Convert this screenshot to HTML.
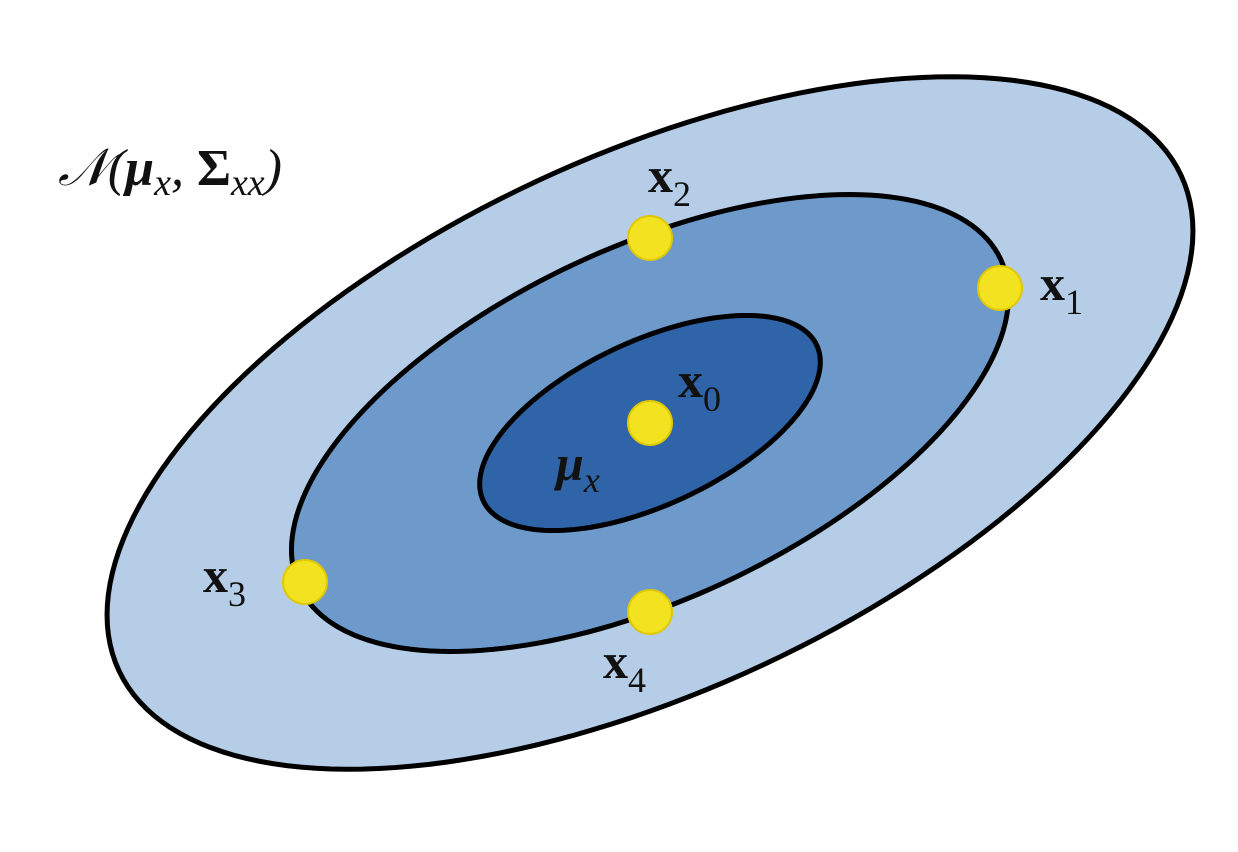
<!DOCTYPE html>
<html><head><meta charset="utf-8"><style>
html,body{margin:0;padding:0;background:#fff;width:1238px;height:852px;overflow:hidden;position:relative;}
svg{display:block;position:absolute;left:0;top:0;}
text{font-family:"Liberation Serif",serif;fill:#111;}
</style></head><body>
<svg id="chart" width="1238" height="852" viewBox="0 0 1238 852"></svg>
<script>
const levelNames = ['outer-contour','middle-contour','inner-contour'];
const semiMajor = [586, 387, 184];
const semiMinor = [267, 176, 82];
const fills = ['#b5cde6','#6e9acb','#2f64a8'];
const pointNames = ['x1','x2','x3','x4','x0'];
const pointX = [1000, 650, 305, 650, 650];
const pointY = [288, 238, 582, 612, 423];
const center = [650, 423];
const angle = -25;

const NS='http://www.w3.org/2000/svg';
const svg=document.getElementById('chart');
function mk(tag, attrs){const e=document.createElementNS(NS,tag);for(const k in attrs)e.setAttribute(k,attrs[k]);svg.appendChild(e);return e;}

const th = angle*Math.PI/180;
for(let i=0;i<semiMajor.length;i++){
  let d='';
  const N=180;
  for(let k=0;k<N;k++){
    const t=2*Math.PI*k/N;
    const ex=semiMajor[i]*Math.cos(t), ey=semiMinor[i]*Math.sin(t);
    const px=center[0]+ex*Math.cos(th)-ey*Math.sin(th);
    const py=center[1]+ex*Math.sin(th)+ey*Math.cos(th);
    d+=(k?'L':'M')+px.toFixed(2)+' '+py.toFixed(2);
  }
  d+='Z';
  const e=mk('path',{d:d,fill:fills[i],stroke:'#000','stroke-width':5,'stroke-linejoin':'round'});
  
  
}
for(let i=0;i<pointX.length;i++){
  const c=mk('circle',{cx:pointX[i],cy:pointY[i],r:22,fill:'#f3e21f',stroke:'#e0c800','stroke-width':2});
  
  
}
</script>
<svg width="1238" height="852">
<g><text x="648" y="192" font-size="50" font-weight="bold">x<tspan font-size="36" font-weight="normal" dy="14">2</tspan></text></g>
<g><text x="1040" y="300" font-size="50" font-weight="bold">x<tspan font-size="36" font-weight="normal" dy="14">1</tspan></text></g>
<g><text x="678" y="397" font-size="50" font-weight="bold">x<tspan font-size="36" font-weight="normal" dy="14">0</tspan></text></g>
<g><text x="556" y="480" font-size="50" font-weight="bold" font-style="italic">μ<tspan font-size="36" font-weight="normal" dy="12">x</tspan></text></g>
<g><text x="203" y="592" font-size="50" font-weight="bold">x<tspan font-size="36" font-weight="normal" dy="14">3</tspan></text></g>
<g><text x="603" y="678" font-size="50" font-weight="bold">x<tspan font-size="36" font-weight="normal" dy="14">4</tspan></text></g>
<g><text x="58" y="185" font-size="52" font-style="italic">𝒩(<tspan font-weight="bold">μ</tspan><tspan font-size="38" dy="10">x</tspan><tspan dy="-10">, </tspan><tspan font-weight="bold" font-style="normal">Σ</tspan><tspan font-size="38" dy="10">xx</tspan><tspan dy="-10">)</tspan></text></g>
</svg>
</body></html>
